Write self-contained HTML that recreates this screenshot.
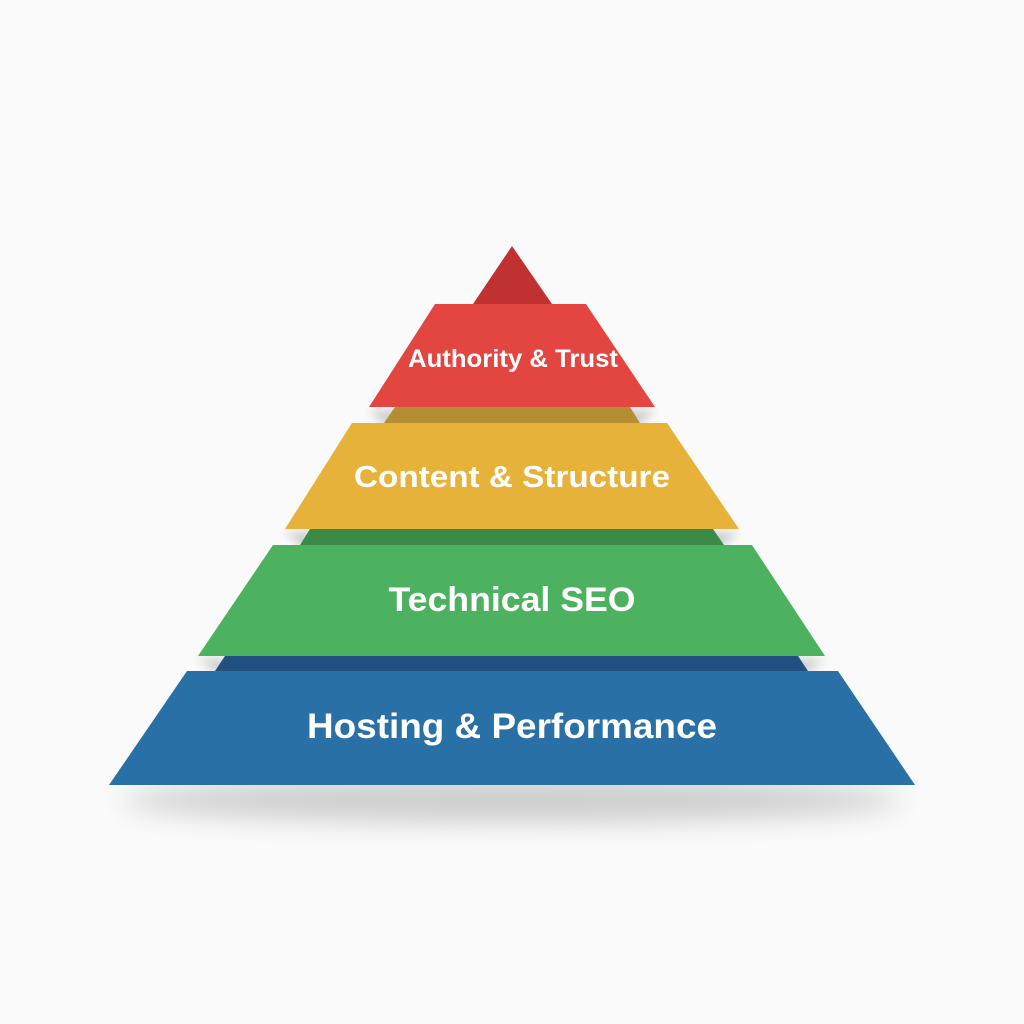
<!DOCTYPE html>
<html><head><style>
html,body{margin:0;padding:0;background:#fafafa;width:1024px;height:1024px;overflow:hidden}
</style></head><body>
<svg width="1024" height="1024" viewBox="0 0 1024 1024" xmlns="http://www.w3.org/2000/svg">
<defs>
<filter id="sh" x="-20%" y="-50%" width="140%" height="200%"><feGaussianBlur stdDeviation="14"/></filter>
<filter id="sh2" x="-20%" y="-50%" width="140%" height="200%"><feGaussianBlur stdDeviation="5"/></filter>
</defs>
<rect width="1024" height="1024" fill="#fafafa"/>
<ellipse cx="512" cy="800" rx="390" ry="22" fill="#000" opacity="0.18" filter="url(#sh)"/>
<g filter="url(#sh2)" opacity="0.18" fill="#000">
<polygon points="369,410 655,410 640,425 384,425"/>
<polygon points="285,532 739,532 720,548 304,548"/>
<polygon points="198,659 825,659 805,674 218,674"/>
</g>
<polygon points="512,246 552,304 473,304" fill="#c03131"/>
<polygon points="435,304 586,304 655,407 369,407" fill="#e34641"/>
<polygon points="395,407 630,407 640,423 384,423" fill="#b58e34"/>
<polygon points="352,423 667,423 739,529 285,529" fill="#e6b23a"/>
<polygon points="310,529 713,529 724,545 300,545" fill="#3c8a48"/>
<polygon points="273,545 752,545 825,656 198,656" fill="#4db260"/>
<polygon points="225,656 798,656 808,671 215,671" fill="#1f5080"/>
<polygon points="187,671 838,671 915,785 109,785" fill="#2870a5"/>
<g font-family="Liberation Sans, sans-serif" font-weight="bold" fill="#fff" text-anchor="middle">
<text x="513" y="367" font-size="25" textLength="210" lengthAdjust="spacingAndGlyphs">Authority &amp; Trust</text>
<text x="512" y="487" font-size="31" textLength="316" lengthAdjust="spacingAndGlyphs">Content &amp; Structure</text>
<text x="512" y="611" font-size="34" textLength="247" lengthAdjust="spacingAndGlyphs">Technical SEO</text>
<text x="512" y="738" font-size="35" textLength="410" lengthAdjust="spacingAndGlyphs">Hosting &amp; Performance</text>
</g>
</svg>
</body></html>
